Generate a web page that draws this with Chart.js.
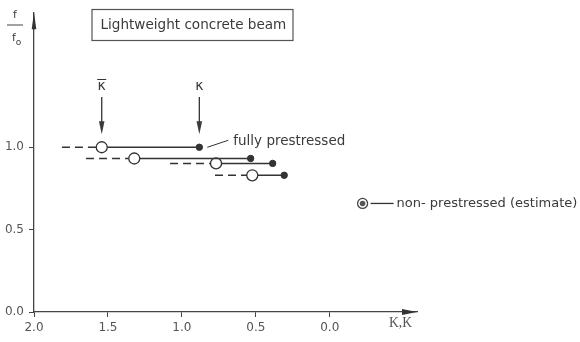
<!DOCTYPE html>
<html>
<head>
<meta charset="utf-8">
<script src="https://cdn.jsdelivr.net/npm/chart.js@4/dist/chart.umd.min.js"></script>
<style>
html,body{margin:0;padding:0;background:#fff;}
#wrap{width:580px;height:342px;position:relative;}
</style>
</head>
<body>
<div id="wrap"><canvas id="c"></canvas></div>
<script>
// ---- data ----
const xTickValues = [2.0, 1.5, 1.0, 0.5, 0.0];
const xTickLabels = ["2.0", "1.5", "1.0", "0.5", "0.0"];
const yTickValues = [0.0, 0.5, 1.0];
const yTickLabels = ["0.0", "0.5", "1.0"];

// fully prestressed beams: f/f0 level, dashed start, open circle (kappa bar), filled dot (kappa)
const rowLevel   = [1.0, 0.932, 0.902, 0.830];
const dashStart  = [1.811, 1.648, 1.080, 0.776];
const kappaBar   = [1.542, 1.322, 0.769, 0.524];
const kappa      = [0.882, 0.535, 0.386, 0.308];

// non-prestressed estimate
const nonPrestressedK = [-0.222];
const nonPrestressedF = [0.659];

const titleText = "Lightweight concrete beam";
const fullyLabel = "fully prestressed";
const nonLabel = "non- prestressed (estimate)";
const xAxisLabel = "K,K";

const INK = '#333';

const datasets = [];
for (let i = 0; i < rowLevel.length; i++) {
  datasets.push({
    type: 'line',
    data: [{x: dashStart[i], y: rowLevel[i]}, {x: kappaBar[i], y: rowLevel[i]}],
    borderColor: INK, borderWidth: 1.5, borderDash: [8, 5],
    pointRadius: 0, order: 3
  });
  datasets.push({
    type: 'line',
    data: [{x: kappaBar[i], y: rowLevel[i]}, {x: kappa[i], y: rowLevel[i]}],
    borderColor: INK, borderWidth: 1.5,
    pointRadius: [5.5, 3.2],
    pointBackgroundColor: ['#fff', INK],
    pointBorderColor: INK,
    pointBorderWidth: [1.3, 1],
    order: 2
  });
}
datasets.push({
  type: 'scatter',
  data: nonPrestressedK.map((k, i) => ({x: k, y: nonPrestressedF[i]})),
  pointRadius: 5, pointBackgroundColor: '#fff', pointBorderColor: '#444', pointBorderWidth: 1.3, order: 1
});
datasets.push({
  type: 'scatter',
  data: nonPrestressedK.map((k, i) => ({x: k, y: nonPrestressedF[i]})),
  pointRadius: 2.8, pointBackgroundColor: '#555', pointBorderWidth: 0, order: 0
});

function fitFont(ctx, text, width, family, weight) {
  ctx.font = (weight || 'normal') + ' 20px ' + family;
  const w = ctx.measureText(text).width;
  return 20 * width / w;
}

const annotate = {
  id: 'annotate',
  afterDraw(chart) {
    const ctx = chart.ctx;
    const xs = chart.scales.x, ys = chart.scales.y;
    const ca = chart.chartArea;
    ctx.save();
    ctx.fillStyle = INK; ctx.strokeStyle = INK;

    // axis arrowheads
    ctx.beginPath();
    ctx.moveTo(ca.right, ca.bottom);
    ctx.lineTo(ca.right - 15, ca.bottom - 3);
    ctx.lineTo(ca.right - 15, ca.bottom + 3);
    ctx.closePath(); ctx.fill();
    ctx.beginPath();
    ctx.moveTo(ca.left, ca.top);
    ctx.lineTo(ca.left - 2.3, ca.top + 17);
    ctx.lineTo(ca.left + 2.3, ca.top + 17);
    ctx.closePath(); ctx.fill();

    // title box
    ctx.lineWidth = 1.2; ctx.strokeStyle = '#555';
    ctx.strokeRect(92, 9.5, 201, 31);
    let fs = fitFont(ctx, titleText, 186, '"DejaVu Sans"');
    ctx.font = fs + 'px "DejaVu Sans"';
    ctx.textBaseline = 'middle'; ctx.textAlign = 'left';
    ctx.fillStyle = '#3a3a3a';
    ctx.fillText(titleText, 100.5, 25.5);

    // y axis label f / f0
    ctx.font = '11px "DejaVu Sans"';
    ctx.textAlign = 'center';
    ctx.fillText('f', 15, 15);
    ctx.lineWidth = 1; ctx.strokeStyle = '#444';
    ctx.beginPath(); ctx.moveTo(7, 25); ctx.lineTo(23, 25); ctx.stroke();
    ctx.fillText('f', 14, 38);
    ctx.font = '9px "DejaVu Sans"';
    ctx.fillText('o', 18.5, 43);

    // kappa markers with arrows
    const yRow1 = ys.getPixelForValue(rowLevel[0]);
    const markers = [{k: kappaBar[0], bar: true}, {k: kappa[0], bar: false}];
    ctx.strokeStyle = INK; ctx.fillStyle = '#3a3a3a';
    markers.forEach(m => {
      const px = xs.getPixelForValue(m.k);
      ctx.font = '14px "DejaVu Sans"';
      ctx.textAlign = 'center';
      ctx.fillText('\u03BA', px, 86);
      if (m.bar) {
        ctx.lineWidth = 1;
        ctx.beginPath(); ctx.moveTo(px - 4.5, 79.5); ctx.lineTo(px + 4.5, 79.5); ctx.stroke();
      }
      const tip = yRow1 - 13;
      ctx.lineWidth = 1.3;
      ctx.beginPath(); ctx.moveTo(px, 97); ctx.lineTo(px, tip - 8); ctx.stroke();
      ctx.beginPath();
      ctx.moveTo(px, tip); ctx.lineTo(px - 2.8, tip - 13); ctx.lineTo(px + 2.8, tip - 13);
      ctx.closePath(); ctx.fill();
    });

    // fully prestressed label
    const fx = xs.getPixelForValue(kappa[0]);
    ctx.lineWidth = 1;
    ctx.beginPath(); ctx.moveTo(fx + 8, yRow1); ctx.lineTo(fx + 29, yRow1 - 7); ctx.stroke();
    fs = fitFont(ctx, fullyLabel, 112, '"DejaVu Sans"');
    ctx.font = fs + 'px "DejaVu Sans"';
    ctx.textAlign = 'left';
    ctx.fillText(fullyLabel, fx + 34, yRow1 - 6);

    // non-prestressed label
    const nx = xs.getPixelForValue(nonPrestressedK[0]);
    const ny = ys.getPixelForValue(nonPrestressedF[0]);
    ctx.lineWidth = 1.3;
    ctx.beginPath(); ctx.moveTo(nx + 8, ny); ctx.lineTo(nx + 31, ny); ctx.stroke();
    fs = fitFont(ctx, nonLabel, 181, '"DejaVu Sans"');
    ctx.font = fs + 'px "DejaVu Sans"';
    ctx.fillText(nonLabel, nx + 34, ny);

    // x axis label
    fs = fitFont(ctx, xAxisLabel, 23, '"Liberation Serif"');
    ctx.font = fs + 'px "Liberation Serif"';
    ctx.fillStyle = '#555';
    ctx.fillText(xAxisLabel, 389, 323);

    ctx.restore();
  }
};

new Chart(document.getElementById('c'), {
  type: 'scatter',
  data: { datasets },
  options: {
    responsive: true,
    maintainAspectRatio: false,
    animation: false,
    events: [],
    layout: { padding: { left: 0, right: 163, top: 10, bottom: 0 } },
    plugins: { legend: { display: false }, tooltip: { enabled: false }, title: { display: false } },
    scales: {
      x: {
        type: 'linear', reverse: true, min: -0.59, max: 2.0,
        afterBuildTicks: s => { s.ticks = xTickValues.map(v => ({value: v})); },
        afterFit: s => { s.height = 30; },
        ticks: {
          callback: (v) => { const i = xTickValues.indexOf(v); return i >= 0 ? xTickLabels[i] : ''; },
          font: { family: '"DejaVu Sans"', size: 12 }, color: '#555', padding: 4, maxRotation: 0, autoSkip: false
        },
        grid: { display: true, drawOnChartArea: false, drawTicks: true, tickLength: 5, color: '#444', lineWidth: 1 },
        border: { display: true, color: '#444', width: 1.3 }
      },
      y: {
        type: 'linear', min: 0, max: 1.82,
        afterBuildTicks: s => { s.ticks = yTickValues.map(v => ({value: v})); },
        afterFit: s => { s.width = 34; },
        ticks: {
          callback: (v) => { const i = yTickValues.indexOf(v); return i >= 0 ? yTickLabels[i] : ''; },
          font: { family: '"DejaVu Sans"', size: 12 }, color: '#555', padding: 5, autoSkip: false
        },
        grid: { display: true, drawOnChartArea: false, drawTicks: true, tickLength: 5, color: '#444', lineWidth: 1 },
        border: { display: true, color: '#444', width: 1.3 }
      }
    }
  },
  plugins: [annotate]
});
</script>
</body>
</html>
